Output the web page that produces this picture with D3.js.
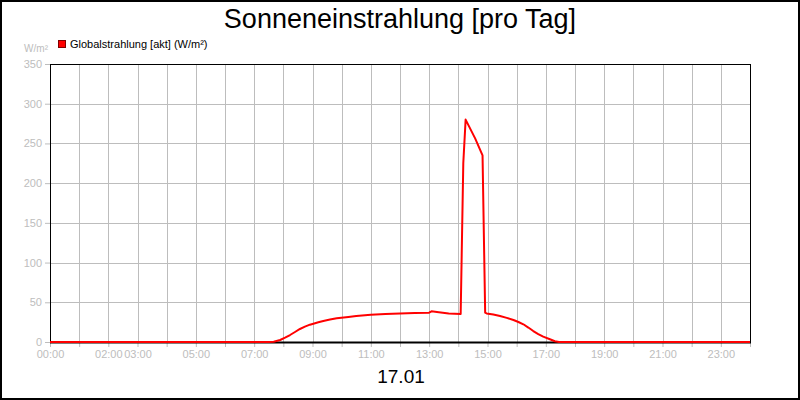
<!DOCTYPE html>
<html>
<head>
<meta charset="utf-8">
<script src="https://cdn.jsdelivr.net/npm/d3@7"></script>
<style>
  body { margin: 0; background: #fff; }
  text { font-family: "Liberation Sans", Arial, sans-serif; }
</style>
</head>
<body>
<div id="chart"></div>
<script>
// hours of the day (decimal) and global radiation in W/m²
var hours  = [0, 7.5, 7.67, 7.89, 8.06, 8.23, 8.4, 8.57, 8.74, 8.91, 9.03, 9.2, 9.37, 9.6, 9.83, 10.23, 10.5, 11.0, 11.5, 12.0, 12.5, 13.0, 13.08, 13.33, 13.67, 14.08, 14.17, 14.25, 14.58, 14.83, 14.92, 14.97, 15.2, 15.43, 15.66, 15.89, 16.06, 16.23, 16.4, 16.57, 16.74, 16.91, 17.14, 17.31, 17.45, 24];
var values = [0, 0, 0.4, 2.5, 5.5, 8.8, 12.6, 16.4, 19.3, 21.8, 23, 24.8, 26.4, 28.2, 29.8, 31.6, 32.8, 34.4, 35.4, 36, 36.5, 36.9, 38.6, 37.5, 36, 35.2, 225, 280, 256, 235, 37, 36, 34.5, 32.7, 30.4, 27.7, 25.2, 22.3, 18.2, 13.8, 10, 6.7, 3.4, 1, 0, 0];
var xLabels = ["00:00", "02:00", "03:00", "05:00", "07:00", "09:00", "11:00", "13:00", "15:00", "17:00", "19:00", "21:00", "23:00"];
var labelHours = [0, 2, 3, 5, 7, 9, 11, 13, 15, 17, 19, 21, 23];
var yTicks = [0, 50, 100, 150, 200, 250, 300, 350];

var title = "Sonneneinstrahlung [pro Tag]";
var dateLabel = "17.01";
var seriesName = "Globalstrahlung [akt] (W/m²)";
var unit = "W/m²";

var width = 800, height = 400;
var margin = {left: 50, right: 50, top: 64, bottom: 58};
var grey = '#bdbdbd';

var svg = d3.select('#chart').append('svg')
    .attr('width', width)
    .attr('height', height);

svg.append('rect')
    .attr('x', 1).attr('y', 1)
    .attr('width', width - 2).attr('height', height - 2)
    .attr('fill', '#fff')
    .attr('stroke', '#000')
    .attr('stroke-width', 2);

var x = d3.scaleLinear().domain([0, 24]).range([margin.left, width - margin.right]);
var y = d3.scaleLinear().domain([0, 350]).range([height - margin.bottom, margin.top]);

// grid
var grid = svg.append('g').attr('class', 'grid');
grid.selectAll('line.v')
    .data(d3.range(1, 24))
    .enter().append('line').attr('class', 'v')
    .attr('x1', function(d) { return Math.round(x(d)) + 0.5; })
    .attr('x2', function(d) { return Math.round(x(d)) + 0.5; })
    .attr('y1', y(350)).attr('y2', y(0))
    .attr('stroke', grey).attr('stroke-width', 1);
grid.selectAll('line.h')
    .data(yTicks.slice(1, -1))
    .enter().append('line').attr('class', 'h')
    .attr('x1', x(0)).attr('x2', x(24))
    .attr('y1', function(d) { return Math.round(y(d)) + 0.5; })
    .attr('y2', function(d) { return Math.round(y(d)) + 0.5; })
    .attr('stroke', grey).attr('stroke-width', 1);

// y axis
var yAxis = svg.append('g')
    .attr('transform', 'translate(' + x(0) + ',0)')
    .call(d3.axisLeft(y).tickValues(yTicks).tickSize(5).tickPadding(3));
yAxis.select('.domain').remove();
yAxis.selectAll('line').attr('stroke', grey);
yAxis.selectAll('text').attr('fill', grey).style('font-size', '11px')
    .style('font-family', '"Liberation Sans", Arial, sans-serif');

// x axis: ticks every hour, labels on selected hours
var xAxis = svg.append('g')
    .attr('transform', 'translate(0,' + y(0) + ')')
    .call(d3.axisBottom(x).tickValues(d3.range(0, 25)).tickSize(5).tickPadding(3)
        .tickFormat(function(d) {
            var i = labelHours.indexOf(d);
            return i >= 0 ? xLabels[i] : '';
        }));
xAxis.select('.domain').remove();
xAxis.selectAll('line').attr('stroke', grey);
xAxis.selectAll('text').attr('fill', grey).style('font-size', '11px')
    .style('font-family', '"Liberation Sans", Arial, sans-serif');

// plot frame
svg.append('rect')
    .attr('x', x(0) + 0.5).attr('y', y(350) + 0.5)
    .attr('width', x(24) - x(0)).attr('height', y(0) - y(350))
    .attr('fill', 'none').attr('stroke', '#000').attr('stroke-width', 1);
svg.append('line')
    .attr('x1', x(0)).attr('x2', x(24) + 1)
    .attr('y1', y(0) + 0.5).attr('y2', y(0) + 0.5)
    .attr('stroke', '#000').attr('stroke-width', 2);

// series
var line = d3.line()
    .x(function(d, i) { return x(hours[i]); })
    .y(function(d) { return y(d); });
svg.append('path')
    .datum(values)
    .attr('d', line)
    .attr('fill', 'none')
    .attr('stroke', '#ff0000')
    .attr('stroke-width', 2)
    .attr('stroke-linejoin', 'round');

// title and labels
svg.append('text')
    .attr('x', width / 2).attr('y', 28)
    .attr('text-anchor', 'middle')
    .style('font-size', '27px')
    .text(title);

svg.append('text')
    .attr('x', 401).attr('y', 383)
    .attr('text-anchor', 'middle')
    .style('font-size', '19px')
    .text(dateLabel);

svg.append('text')
    .attr('x', 48).attr('y', 52)
    .attr('text-anchor', 'end')
    .attr('fill', grey)
    .style('font-size', '10px')
    .text(unit);

// legend
svg.append('rect')
    .attr('x', 58.5).attr('y', 40.5)
    .attr('width', 7).attr('height', 7)
    .attr('fill', '#ff0000').attr('stroke', '#800000').attr('stroke-width', 1);
svg.append('text')
    .attr('x', 70).attr('y', 48)
    .style('font-size', '11px')
    .text(seriesName);
</script>
</body>
</html>
